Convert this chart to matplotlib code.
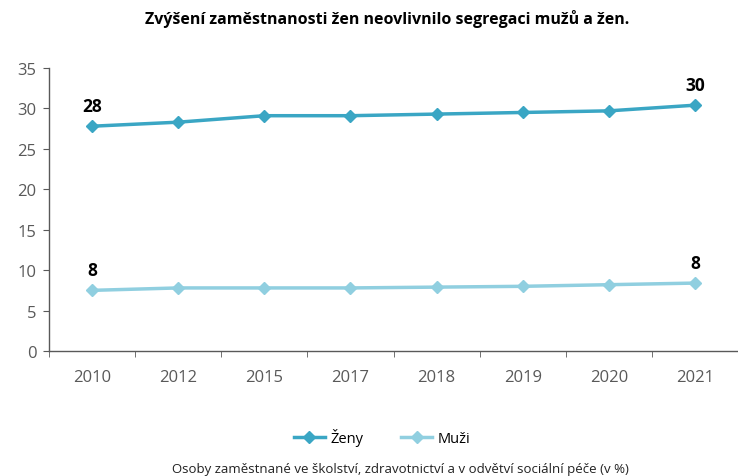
import numpy as np
import matplotlib
matplotlib.use("Agg")
from matplotlib import pyplot as plt

# data
years = ["2010", "2012", "2015", "2017", "2018", "2019", "2020", "2021"]
zeny = [27.8, 28.3, 29.1, 29.1, 29.3, 29.5, 29.7, 30.4]
muzi = [7.5, 7.8, 7.8, 7.8, 7.9, 8.0, 8.2, 8.4]
yticks = [0, 5, 10, 15, 20, 25, 30, 35]

plt.rcParams['font.family'] = ['Open Sans', 'DejaVu Sans']

c_zeny = "#3aa6c4"
c_muzi = "#90cfe0"
grey = "#595959"

fig = plt.figure(figsize=(7.38, 4.77), dpi=100)
# axes placed in pixel terms: left 49, right 738, top 69, bottom 352
W, H = 738, 477
ax = fig.add_axes([49 / W, 1 - 352 / H, (738 - 49) / W, (352 - 69) / H])

x = np.arange(len(years))
ax.plot(x, zeny, color=c_zeny, lw=2.5, marker="D", ms=6, label="Ženy")
ax.plot(x, muzi, color=c_muzi, lw=2.5, marker="D", ms=6, label="Muži")

# value labels on first and last points
for i in (0, len(years) - 1):
    ax.text(x[i], zeny[i] + 1.4, f"{zeny[i]:.0f}", ha="center", va="bottom",
            fontsize=12.5, fontweight="bold", color="black")
    ax.text(x[i], muzi[i] + 1.4, f"{muzi[i]:.0f}", ha="center", va="bottom",
            fontsize=12.5, fontweight="bold", color="black")

ax.set_xlim(-0.5, len(years) - 0.5)
ax.set_ylim(0, 35)
ax.set_yticks(yticks)
ax.set_xticks(x)
ax.set_xticklabels(years)
# tick marks sit between categories
ax.set_xticks(np.arange(-0.5, len(years), 1.0), minor=True)
ax.tick_params(axis="x", which="major", length=0, pad=13, labelsize=12, labelcolor=grey)
ax.tick_params(axis="x", which="minor", length=4, color=grey, direction="out")
ax.tick_params(axis="y", length=4, color=grey, labelsize=12, labelcolor=grey, pad=5)

for s in ("top", "right"):
    ax.spines[s].set_visible(False)
for s in ("left", "bottom"):
    ax.spines[s].set_color(grey)
    ax.spines[s].set_linewidth(1)
ax.spines["bottom"].set_bounds(-0.5, len(years) - 0.5)

fig.text(0.525, 1 - 19 / H, "Zvýšení zaměstnanosti žen neovlivnilo segregaci mužů a žen.",
         ha="center", va="center", fontsize=11.5, fontweight="bold", color="black")

fig.legend(loc="center", bbox_to_anchor=(0.518, 1 - 438 / H), ncol=2, frameon=False,
           fontsize=10.5, handlelength=2.1, handletextpad=0.4, columnspacing=2.6)

fig.text(0.542, 1 - 470 / H, "Osoby zaměstnané ve školství, zdravotnictví a v odvětví sociální péče (v %)",
         ha="center", va="center", fontsize=9.5, color="#222222")

fig.savefig("out.png", dpi=100)
